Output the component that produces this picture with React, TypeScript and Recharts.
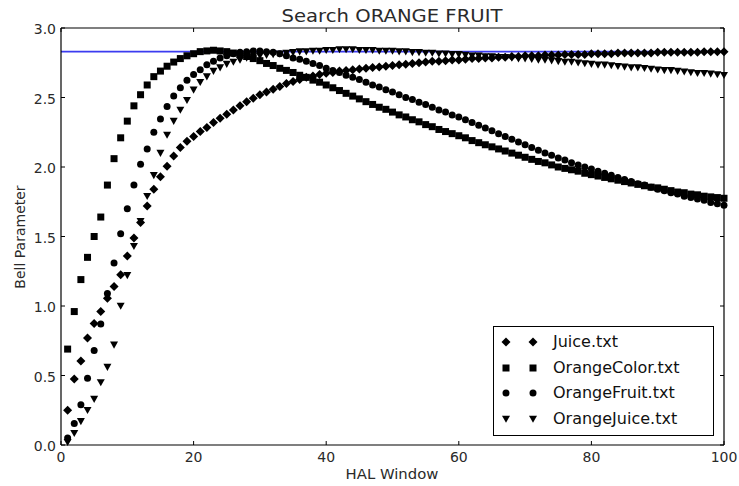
import React from 'react';
import { ScatterChart, Scatter, XAxis, YAxis, ReferenceLine } from 'recharts';

const halWindow = [
  1, 2, 3, 4, 5, 6, 7, 8, 9, 10,
  11, 12, 13, 14, 15, 16, 17, 18, 19, 20,
  21, 22, 23, 24, 25, 26, 27, 28, 29, 30,
  31, 32, 33, 34, 35, 36, 37, 38, 39, 40,
  41, 42, 43, 44, 45, 46, 47, 48, 49, 50,
  51, 52, 53, 54, 55, 56, 57, 58, 59, 60,
  61, 62, 63, 64, 65, 66, 67, 68, 69, 70,
  71, 72, 73, 74, 75, 76, 77, 78, 79, 80,
  81, 82, 83, 84, 85, 86, 87, 88, 89, 90,
  91, 92, 93, 94, 95, 96, 97, 98, 99, 100,
];

const juice = [
  0.25, 0.475, 0.605, 0.77, 0.875, 0.96, 1.055, 1.14, 1.225, 1.36,
  1.49, 1.6, 1.72, 1.84, 1.93, 2.005, 2.08, 2.14, 2.185, 2.22,
  2.255, 2.285, 2.32, 2.35, 2.38, 2.41, 2.44, 2.47, 2.495, 2.52,
  2.54, 2.56, 2.58, 2.6, 2.615, 2.63, 2.645, 2.655, 2.665, 2.675,
  2.68, 2.69, 2.695, 2.7, 2.705, 2.71, 2.715, 2.72, 2.725, 2.73,
  2.735, 2.74, 2.745, 2.75, 2.755, 2.76, 2.76, 2.765, 2.77, 2.77,
  2.775, 2.78, 2.78, 2.785, 2.785, 2.79, 2.79, 2.795, 2.795, 2.8,
  2.8, 2.8, 2.805, 2.805, 2.805, 2.81, 2.81, 2.81, 2.81, 2.815,
  2.815, 2.815, 2.815, 2.82, 2.82, 2.82, 2.82, 2.82, 2.82, 2.825,
  2.825, 2.825, 2.825, 2.825, 2.825, 2.825, 2.83, 2.83, 2.83, 2.83,
];

const orangeColor = [
  0.69, 0.96, 1.19, 1.35, 1.5, 1.64, 1.87, 2.06, 2.21, 2.33,
  2.44, 2.52, 2.59, 2.65, 2.69, 2.725, 2.755, 2.78, 2.8, 2.815,
  2.83, 2.835, 2.84, 2.835, 2.83, 2.82, 2.81, 2.795, 2.78, 2.765,
  2.745, 2.73, 2.71, 2.695, 2.68, 2.66, 2.645, 2.625, 2.61, 2.59,
  2.57, 2.55, 2.53, 2.51, 2.49, 2.47, 2.45, 2.43, 2.415, 2.395,
  2.375, 2.36, 2.34, 2.325, 2.305, 2.29, 2.27, 2.255, 2.24, 2.225,
  2.21, 2.19, 2.175, 2.16, 2.145, 2.13, 2.115, 2.1, 2.085, 2.07,
  2.055, 2.04, 2.03, 2.015, 2.0, 1.99, 1.98, 1.97, 1.955, 1.945,
  1.935, 1.925, 1.915, 1.905, 1.895, 1.885, 1.875, 1.865, 1.855, 1.85,
  1.84, 1.83, 1.82, 1.815, 1.805, 1.8, 1.79, 1.785, 1.78, 1.775,
];

const orangeFruit = [
  0.05, 0.155, 0.29, 0.48, 0.68, 0.87, 1.09, 1.31, 1.52, 1.7,
  1.87, 2.02, 2.13, 2.25, 2.345, 2.435, 2.51, 2.57, 2.625, 2.665,
  2.7, 2.735, 2.76, 2.785, 2.8, 2.815, 2.825, 2.83, 2.835, 2.835,
  2.83, 2.825, 2.815, 2.8, 2.785, 2.775, 2.76, 2.745, 2.73, 2.71,
  2.695, 2.68, 2.66, 2.645, 2.63, 2.61, 2.59, 2.575, 2.555, 2.54,
  2.52, 2.5, 2.485, 2.465, 2.45, 2.43, 2.41, 2.395, 2.375, 2.36,
  2.34, 2.32, 2.3, 2.28, 2.26, 2.24, 2.22, 2.2, 2.18, 2.16,
  2.14, 2.12, 2.1, 2.085, 2.065, 2.05, 2.03, 2.015, 2.0, 1.985,
  1.97, 1.955, 1.94, 1.925, 1.91, 1.895, 1.88, 1.87, 1.855, 1.84,
  1.83, 1.815, 1.805, 1.79, 1.78, 1.77, 1.76, 1.745, 1.735, 1.725,
];

const orangeJuice = [
  0.02, 0.085, 0.17, 0.25, 0.33, 0.45, 0.56, 0.72, 1.0, 1.22,
  1.43, 1.61, 1.79, 1.94, 2.1, 2.23, 2.33, 2.41, 2.48, 2.555,
  2.61, 2.65, 2.69, 2.715, 2.74, 2.755, 2.77, 2.785, 2.795, 2.8,
  2.805, 2.81, 2.815, 2.82, 2.825, 2.83, 2.83, 2.835, 2.835, 2.84,
  2.84, 2.845, 2.845, 2.845, 2.84, 2.84, 2.84, 2.835, 2.835, 2.835,
  2.83, 2.83, 2.825, 2.825, 2.82, 2.82, 2.815, 2.815, 2.81, 2.81,
  2.805, 2.8, 2.8, 2.795, 2.795, 2.79, 2.79, 2.785, 2.78, 2.78,
  2.775, 2.77, 2.77, 2.765, 2.76, 2.755, 2.755, 2.75, 2.745, 2.74,
  2.735, 2.735, 2.73, 2.725, 2.72, 2.715, 2.715, 2.71, 2.705, 2.7,
  2.695, 2.695, 2.69, 2.685, 2.68, 2.675, 2.675, 2.67, 2.665, 2.66,
];

const xTicks = [0, 20, 40, 60, 80, 100];
const yTicks = [0, 0.5, 1.0, 1.5, 2.0, 2.5, 3.0];
const xDomain: [number, number] = [0, 100];
const yDomain: [number, number] = [0, 3];
const referenceLevel = 2.83;
const seriesNames = ['Juice.txt', 'OrangeColor.txt', 'OrangeFruit.txt', 'OrangeJuice.txt'];
const chartTitle = 'Search ORANGE FRUIT';
const xLabel = 'HAL Window';
const yLabel = 'Bell Parameter';

const FONT = '"DejaVu Sans", sans-serif';
const TEXT = '#2a2a2a';

// layout
const CHART_W = 739;
const CHART_H = 486;
const MARGIN = { top: 28, right: 15, bottom: 11, left: 21 };
const X_AXIS_H = 30;
const Y_AXIS_W = 40;
const PLOT_W = CHART_W - MARGIN.left - MARGIN.right - Y_AXIS_W;
const PLOT_H = CHART_H - MARGIN.top - MARGIN.bottom - X_AXIS_H;
const TICK_LEN = 4;

const toPoints = (values: number[]) => halWindow.map((x, i) => ({ x, y: values[i] }));

const diamondPath = (cx: number, cy: number, r: number) =>
  `${cx},${cy - r} ${cx + r},${cy} ${cx},${cy + r} ${cx - r},${cy}`;
const triPath = (cx: number, cy: number) =>
  `${cx - 4},${cy - 3.3} ${cx + 4},${cy - 3.3} ${cx},${cy + 3.8}`;

const DiamondMark = (p: any) => <polygon points={diamondPath(p.cx, p.cy, 4.5)} fill="#000" />;
const SquareMark = (p: any) => <rect x={p.cx - 3.5} y={p.cy - 3.5} width={7} height={7} fill="#000" />;
const CircleMark = (p: any) => <circle cx={p.cx} cy={p.cy} r={3.5} fill="#000" />;
const TriangleMark = (p: any) => <polygon points={triPath(p.cx, p.cy)} fill="#000" />;

const markShapes = [DiamondMark, SquareMark, CircleMark, TriangleMark];

// bottom tick: inward tick at the bottom and mirrored one at the top; last tick also draws the right frame edge
const BottomTick = (props: any) => {
  const { x, y, payload, index } = props;
  const isLast = payload.value === xDomain[1];
  return (
    <g>
      <line x1={x} y1={y} x2={x} y2={y - TICK_LEN} stroke="#000" />
      <line x1={x} y1={y - PLOT_H} x2={x} y2={y - PLOT_H + TICK_LEN} stroke="#000" />
      {isLast && <line x1={x} y1={y} x2={x} y2={y - PLOT_H} stroke="#000" strokeWidth={1.2} />}
      <text x={x} y={y + 17} textAnchor="middle" fontSize={14} fill={TEXT} fontFamily={FONT} key={index}>
        {payload.value}
      </text>
    </g>
  );
};
// left tick: inward tick on the left and mirrored on the right; top tick also draws the top frame edge
const LeftTick = (props: any) => {
  const { x, y, payload } = props;
  const isTop = payload.value === yDomain[1];
  return (
    <g>
      <line x1={x} y1={y} x2={x + TICK_LEN} y2={y} stroke="#000" />
      <line x1={x + PLOT_W} y1={y} x2={x + PLOT_W - TICK_LEN} y2={y} stroke="#000" />
      {isTop && <line x1={x} y1={y} x2={x + PLOT_W} y2={y} stroke="#000" strokeWidth={1.2} />}
      <text x={x - 5} y={y + 6} textAnchor="end" fontSize={14} fill={TEXT} fontFamily={FONT}>
        {Number(payload.value).toFixed(1)}
      </text>
    </g>
  );
};

const LegendBox = () => (
  <div
    style={{
      position: 'absolute',
      left: 493,
      top: 326,
      width: 221,
      height: 110,
      border: '1px solid #000',
      background: '#fff',
      boxSizing: 'border-box',
      fontFamily: FONT,
      fontSize: 16,
      color: '#111',
    }}
  >
    {seriesNames.map((name, i) => {
      const Shape = markShapes[i];
      const cy = 15 + 25.7 * i;
      return (
        <div key={name} style={{ position: 'absolute', left: 0, top: cy - 10, height: 20, width: 219 }}>
          <svg width={56} height={20} style={{ position: 'absolute', left: 0, top: 0 }}>
            <Shape cx={12} cy={10} />
            <Shape cx={39} cy={10} />
          </svg>
          <span style={{ position: 'absolute', left: 59, top: 0, lineHeight: '20px', whiteSpace: 'nowrap' }}>
            {name}
          </span>
        </div>
      );
    })}
  </div>
);

export default function App() {
  const seriesData = [juice, orangeColor, orangeFruit, orangeJuice];
  return (
    <div style={{ position: 'absolute', left: 0, top: 0, width: CHART_W, height: CHART_H, background: '#fff' }}>
      <ScatterChart width={CHART_W} height={CHART_H} margin={MARGIN}>
        <XAxis
          dataKey="x"
          type="number"
          domain={xDomain}
          ticks={xTicks}
          height={X_AXIS_H}
          tickLine={false}
          tickSize={0}
          tickMargin={0}
          tick={<BottomTick />}
          interval={0}
          axisLine={{ stroke: '#000', strokeWidth: 1.2 }}
        />
        <YAxis
          dataKey="y"
          type="number"
          domain={yDomain}
          ticks={yTicks}
          width={Y_AXIS_W}
          tickLine={false}
          tickSize={0}
          tickMargin={0}
          tick={<LeftTick />}
          interval={0}
          axisLine={{ stroke: '#000', strokeWidth: 1.2 }}
        />
        {seriesData.map((vals, i) => (
          <Scatter
            key={seriesNames[i]}
            name={seriesNames[i]}
            data={toPoints(vals)}
            fill="#000"
            shape={markShapes[i]}
            isAnimationActive={false}
          />
        ))}
        <ReferenceLine y={referenceLevel} stroke="#3b3bf0" strokeWidth={1.6} ifOverflow="visible" />
      </ScatterChart>
      <LegendBox />
      <div
        style={{
          position: 'absolute',
          left: 242,
          top: 7,
          width: 300,
          textAlign: 'center',
          fontFamily: FONT,
          fontSize: 18.5,
          lineHeight: '18px',
          color: TEXT,
          transform: 'scaleX(1.06)',
        }}
      >
        {chartTitle}
      </div>
      <div
        style={{
          position: 'absolute',
          left: 292,
          top: 467,
          width: 200,
          textAlign: 'center',
          fontFamily: FONT,
          fontSize: 14,
          lineHeight: '14px',
          color: TEXT,
          transform: 'scaleX(1.06)',
        }}
      >
        {xLabel}
      </div>
      <div
        style={{
          position: 'absolute',
          left: 19.5 - 100,
          top: 237 - 7,
          width: 200,
          height: 14,
          textAlign: 'center',
          fontFamily: FONT,
          fontSize: 14,
          lineHeight: '14px',
          color: TEXT,
          transform: 'rotate(-90deg)',
        }}
      >
        {yLabel}
      </div>
    </div>
  );
}
